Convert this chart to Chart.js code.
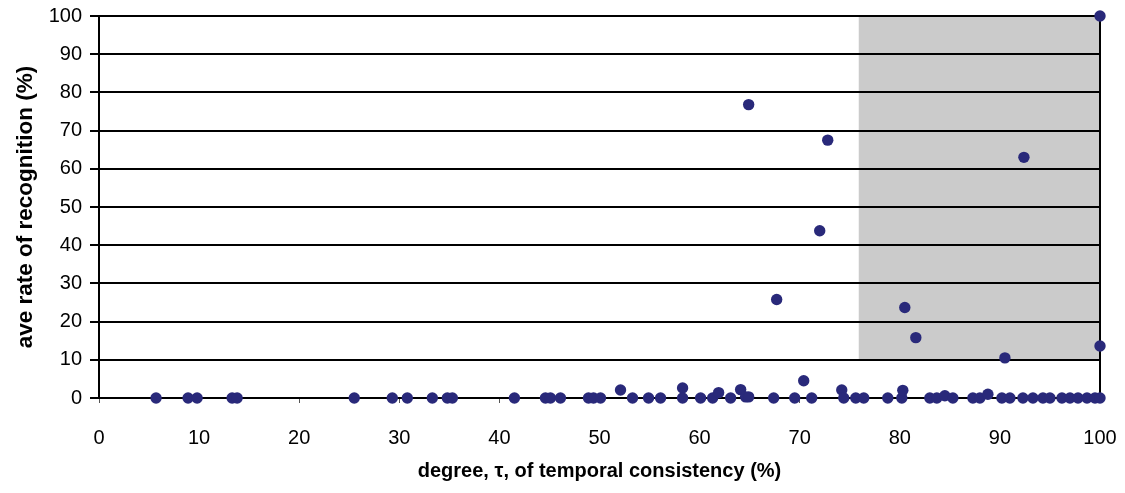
<!DOCTYPE html>
<html>
<head>
<meta charset="utf-8">
<script src="https://cdn.jsdelivr.net/npm/chart.js@4"></script>
<style>
  html, body { margin: 0; padding: 0; background: #fff; }
  #wrap { width: 1125px; height: 493px; }
</style>
</head>
<body>
<div id="wrap"><canvas id="myChart" width="1125" height="493"></canvas></div>
<script>
// degree of temporal consistency (%) for each item
const degree = [
  5.7, 8.9, 9.8, 13.3, 13.8, 25.5, 29.3, 30.8, 33.3, 34.8, 35.3,
  41.5, 44.6, 45.1, 46.1, 48.9, 49.4, 50.1, 52.1, 53.3, 54.9, 56.1,
  58.3, 58.3, 60.1, 61.3, 61.9, 63.1, 64.1, 64.6, 64.9, 64.9, 67.4,
  67.7, 69.5, 70.4, 71.2, 72.0, 72.8, 74.2, 74.4, 75.6, 76.4, 78.8,
  80.2, 80.3, 80.5, 81.6, 83.0, 83.7, 84.5, 85.3, 87.3, 88.0, 88.8,
  90.2, 90.5, 91.0, 92.3, 92.4, 93.3, 94.3, 95.0, 96.2, 97.0, 97.8,
  98.7, 99.5, 100, 100, 100
];
// average rate of recognition (%) for the same items
const rate = [
  0, 0, 0, 0, 0, 0, 0, 0, 0, 0, 0,
  0, 0, 0, 0, 0, 0, 0, 2.1, 0, 0, 0,
  2.6, 0, 0, 0, 1.4, 0, 2.2, 0.3, 0.3, 76.8, 0,
  25.8, 0, 4.5, 0, 43.8, 67.5, 2.1, 0, 0, 0, 0,
  0, 2.0, 23.7, 15.8, 0, 0, 0.6, 0, 0, 0, 1.0,
  0, 10.5, 0, 0, 63.0, 0, 0, 0, 0, 0, 0,
  0, 0, 0, 13.6, 100
];
const xTicks = [0, 10, 20, 30, 40, 50, 60, 70, 80, 90, 100];
const yTicks = [0, 10, 20, 30, 40, 50, 60, 70, 80, 90, 100];

// shaded band: tau above 75.9 with rate 10..100
const bandX = [75.9, 100];
const bandY = [10, 100];

const points = degree.map((d, i) => ({ x: d, y: rate[i] }));

const FONT = 'Liberation Sans, Arial, Helvetica, sans-serif';

const bandPlugin = {
  id: 'band',
  beforeDraw(chart) {
    const { ctx, scales: { x, y } } = chart;
    const x0 = x.getPixelForValue(bandX[0]);
    const x1 = x.getPixelForValue(bandX[1]);
    const y0 = y.getPixelForValue(bandY[1]);
    const y1 = y.getPixelForValue(bandY[0]);
    ctx.save();
    ctx.fillStyle = '#cbcbcb';
    ctx.fillRect(x0, y0, x1 - x0, y1 - y0);
    ctx.restore();
  },
  beforeDatasetsDraw(chart) {
    // right edge of the plot
    const { ctx, scales: { x, y } } = chart;
    const px = x.getPixelForValue(x.max);
    ctx.save();
    ctx.strokeStyle = '#000';
    ctx.lineWidth = 2;
    ctx.beginPath();
    ctx.moveTo(px, y.getPixelForValue(y.max));
    ctx.lineTo(px, y.getPixelForValue(y.min));
    ctx.stroke();
    ctx.restore();
  }
};

new Chart(document.getElementById('myChart').getContext('2d'), {
  type: 'scatter',
  data: {
    datasets: [{
      data: points,
      backgroundColor: '#29297a',
      borderColor: '#29297a',
      borderWidth: 0,
      pointRadius: 5.7,
      pointHoverRadius: 5.7,
      clip: false
    }]
  },
  options: {
    responsive: false,
    animation: false,
    layout: { padding: { top: 16, right: 25, left: 0, bottom: 0 } },
    plugins: {
      legend: { display: false },
      tooltip: { enabled: false }
    },
    scales: {
      x: {
        type: 'linear',
        min: 0,
        max: 100,
        afterBuildTicks: s => { s.ticks = xTicks.map(v => ({ value: v })); },
        afterFit: s => { s.height = 95; s.paddingLeft = 0; s.paddingRight = 0; },
        grid: { drawOnChartArea: false, drawTicks: true, tickLength: 5, color: '#555', lineWidth: 1 },
        border: { color: '#000', width: 2 },
        ticks: { color: '#000', font: { family: FONT, size: 20 }, padding: 23, maxRotation: 0 },
        title: {
          display: true,
          text: 'degree, τ, of temporal consistency (%)',
          color: '#000',
          font: { family: FONT, size: 20, weight: 'bold' },
          padding: { top: 0, bottom: 10 }
        }
      },
      y: {
        type: 'linear',
        min: 0,
        max: 100,
        afterBuildTicks: s => { s.ticks = yTicks.map(v => ({ value: v })); },
        afterFit: s => { s.width = 99; s.paddingTop = 0; s.paddingBottom = 0; },
        grid: { color: '#000', lineWidth: 2, tickLength: 9 },
        border: { color: '#000', width: 2 },
        ticks: { color: '#000', font: { family: FONT, size: 20 }, padding: 8 },
        title: {
          display: true,
          text: 'ave rate of recognition (%)',
          color: '#000',
          font: { family: FONT, size: 22.5, weight: 'bold' },
          padding: { top: 12, bottom: 0 }
        }
      }
    }
  },
  plugins: [bandPlugin]
});
</script>
</body>
</html>
